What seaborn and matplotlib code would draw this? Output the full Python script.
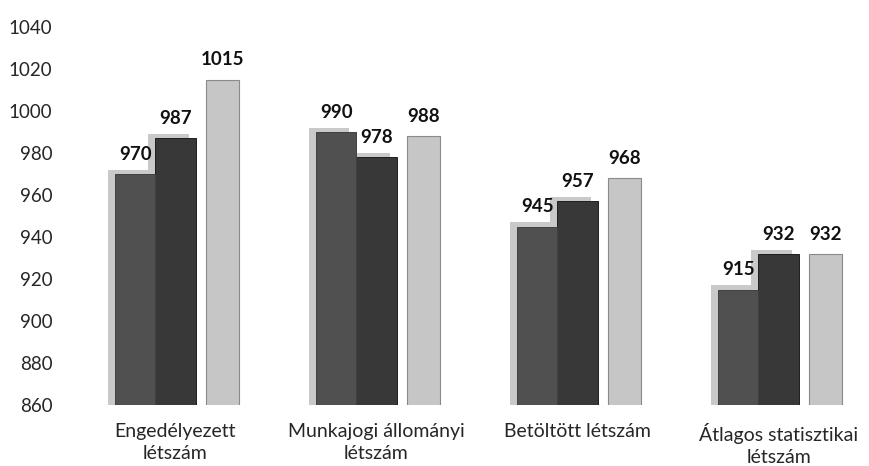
import matplotlib
matplotlib.use("Agg")
import matplotlib.pyplot as plt
import matplotlib.patheffects as pe
import seaborn as sns
import pandas as pd

categories = ["Engedélyezett\nlétszám", "Munkajogi állományi\nlétszám",
              "Betöltött létszám", "Átlagos statisztikai\nlétszám"]
series_names = ["A", "B", "C"]
series_a = [970, 990, 945, 915]
series_b = [987, 978, 957, 932]
series_c = [1015, 988, 968, 932]
yticks = [860, 880, 900, 920, 940, 960, 980, 1000, 1020, 1040]

rows = []
for name, vals in zip(series_names, [series_a, series_b, series_c]):
    for cat, v in zip(categories, vals):
        rows.append({"cat": cat, "series": name, "value": v})
df = pd.DataFrame(rows)

sns.set_style("white")
plt.rcParams["font.family"] = ["Lato", "DejaVu Sans"]

fig = plt.figure(figsize=(8.69, 4.66), dpi=100)
ax = fig.add_axes([83 / 869, 61 / 466, 1 - 83 / 869, 378 / 466])

palette = ["#505050", "#383838", "#c6c6c6"]
sns.barplot(data=df, x="cat", y="value", hue="series", palette=palette,
            width=0.6, ax=ax, legend=False, saturation=1)

nser = len(series_names)
ncat = len(categories)
bars = ax.patches[: nser * ncat]
shadow = [pe.SimplePatchShadow(offset=(-5, 3), shadow_rgbFace="#bcbcbc", alpha=0.8),
          pe.Normal()]
for i, p in enumerate(bars):
    s = i // ncat
    if s == 2:
        w = p.get_width()
        p.set_x(p.get_x() + 0.05)
        p.set_width(w * 0.83)
        p.set_edgecolor("#8a8a8a")
        p.set_linewidth(0.8)
    else:
        p.set_edgecolor("#1e1e1e" if s == 1 else "#404040")
        p.set_linewidth(0.7)
        p.set_path_effects(shadow)
        p.set_zorder(3 if s == 0 else 2.5)

for p in bars:
    v = p.get_y() + p.get_height()
    ax.annotate(f"{int(round(v))}",
                (p.get_x() + p.get_width() / 2, v),
                xytext=(0, 8), textcoords="offset points",
                ha="center", va="bottom", fontsize=13.5, fontweight="bold",
                color="#111111")

ax.set_ylim(860, 1040)
ax.set_xlim(-0.46, 3.45)
ax.set_yticks(yticks)
ax.set_yticklabels([str(t) for t in yticks], fontsize=13.5)
ax.tick_params(axis="x", labelsize=14, pad=13, length=0)
ax.tick_params(axis="y", length=0, pad=22)
for lbl in ax.get_xticklabels():
    lbl.set_linespacing(1.35)
ax.set_xlabel("")
ax.set_ylabel("")
for s in ax.spines.values():
    s.set_visible(False)
ax.grid(False)

fig.savefig("out.png", dpi=100)
